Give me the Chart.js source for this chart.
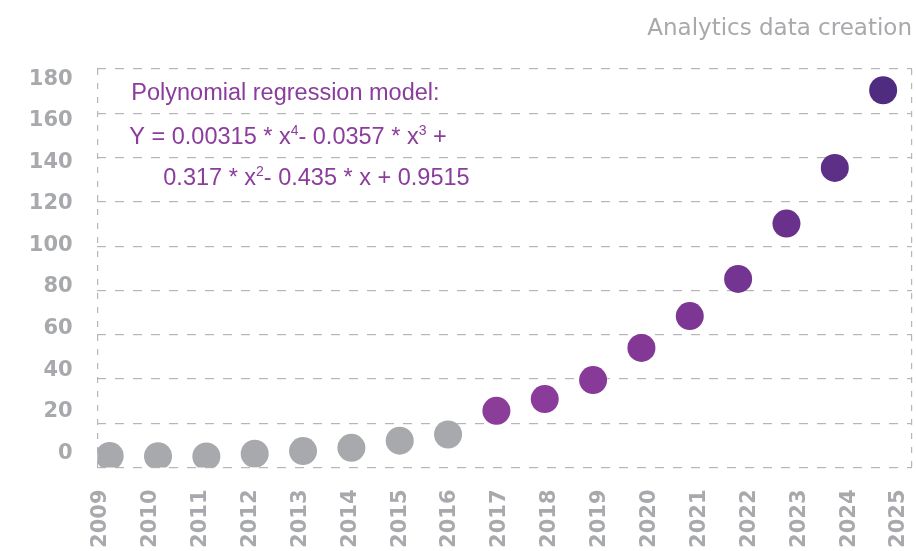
<!DOCTYPE html>
<html>
<head>
<meta charset="utf-8">
<script src="https://cdn.jsdelivr.net/npm/chart.js@4"></script>
<style>
html, body { margin: 0; padding: 0; background: #fff; }
</style>
</head>
<body>
<canvas id="scatterChart" width="916" height="551"></canvas>
<script>
// data van de chart
const jaren = [2009, 2010, 2011, 2012, 2013, 2014, 2015, 2016, 2017, 2018, 2019, 2020, 2021, 2022, 2023, 2024, 2025];
const waarden = [5.2, 5.1, 5.0, 6.2, 7.4, 8.9, 12.1, 14.9, 25.6, 30.9, 39.5, 54, 68.4, 85.2, 110.2, 135.3, 170.4];
const yTicks = [0, 20, 40, 60, 80, 100, 120, 140, 160, 180];
const titel = 'Analytics data creation';
// tekst van het model, sup = superscript
const modelRegels = [
	[{t: 'Polynomial regression model:'}],
	[{t: 'Y = 0.00315 * x'}, {t: '4', sup: true}, {t: '- 0.0357 * x'}, {t: '3', sup: true}, {t: ' +'}],
	[{t: '0.317 * x'}, {t: '2', sup: true}, {t: '- 0.435 * x + 0.9515'}]
];

// kleuren per punt (grijs = gemeten, paars = model)
const puntKleuren = ['#a8a9ac', '#a8a9ac', '#a8a9ac', '#a8a9ac', '#a8a9ac', '#a8a9ac', '#a8a9ac', '#a8a9ac',
	'#8c3c99', '#8b3b99', '#883a98', '#833896', '#7d3693', '#743491', '#69318b', '#5d2f86', '#4f2c7f'];
const grijs = '#a8a9ac';
const lijnKleur = '#b6b6b8';

// geen extra ruimte voor schuine labels aan de randen
const geenPadding = s => { s.paddingLeft = 0; s.paddingRight = 0; s.paddingTop = 0; s.paddingBottom = 0; };

// tekent de formule linksboven in de plot
const modelPlugin = {
	id: 'model',
	afterDraw(chart) {
		const {ctx, chartArea} = chart;
		const inspring = [34, 32, 66];
		const hoogte = [31, 75, 116];
		ctx.save();
		ctx.fillStyle = '#8b3d9c';
		ctx.textBaseline = 'alphabetic';
		modelRegels.forEach((regel, i) => {
			let x = chartArea.left + inspring[i];
			const y = chartArea.top + hoogte[i];
			regel.forEach(deel => {
				ctx.font = deel.sup ? '14px "Liberation Sans"' : '23.5px "Liberation Sans"';
				ctx.fillText(deel.t, x, deel.sup ? y - 9 : y);
				x += ctx.measureText(deel.t).width;
			});
		});
		ctx.restore();
	}
};

const myChart = document.getElementById('scatterChart');
const config = {
	type: 'scatter',
	data: {
		datasets: [{
			label: 'Data creation',
			data: jaren.map((j, i) => ({x: j, y: waarden[i]})),
			backgroundColor: puntKleuren,
			borderWidth: 0,
			pointRadius: 14,
			pointHoverRadius: 14
		}]
	},
	options: {
		responsive: false,
		animation: false,
		layout: {autoPadding: false, padding: {top: 0, right: 4, bottom: 0, left: 0}},
		plugins: {
			legend: {display: false},
			tooltip: {enabled: false},
			title: {
				display: true,
				text: titel,
				align: 'end',
				color: grijs,
				font: {family: 'DejaVu Sans', size: 23, weight: 'normal'},
				padding: {top: 15, bottom: 26.4}
			}
		},
		scales: {
			// x-as van de punten, alleen de gestippelde randen links en rechts
			x: {
				type: 'linear',
				position: 'bottom',
				min: 2008.744,
				max: 2025.597,
				afterBuildTicks: s => { s.ticks = [{value: s.min}, {value: s.max}]; },
				afterFit: s => { s.height = 0; geenPadding(s); },
				ticks: {display: false},
				grid: {color: lijnKleur, lineWidth: 1.2, drawTicks: false},
				border: {display: false, dash: [6, 8]}
			},
			// jaartallen onderaan
			jaarAs: {
				type: 'linear',
				position: 'bottom',
				min: 2008.93,
				max: 2025.26,
				afterBuildTicks: s => { s.ticks = jaren.map(v => ({value: v})); },
				afterFit: s => { s.height = 83.5; geenPadding(s); },
				grid: {display: false, drawTicks: false},
				border: {display: false},
				ticks: {
					autoSkip: false,
					minRotation: 90,
					maxRotation: 90,
					padding: 22,
					color: grijs,
					font: {family: 'DejaVu Sans', size: 21, weight: 'bold'},
					callback: v => String(v)
				}
			},
			// y-as van de punten, horizontale stippellijnen
			y: {
				type: 'linear',
				position: 'left',
				min: 0,
				max: 180,
				afterFit: s => { s.width = 0; geenPadding(s); },
				ticks: {display: false, stepSize: 20},
				grid: {color: lijnKleur, lineWidth: 1.2, drawTicks: false},
				border: {display: false, dash: [9, 9]}
			},
			// getallen links
			labelAs: {
				type: 'linear',
				position: 'left',
				min: -6.83,
				max: 184.9,
				afterBuildTicks: s => { s.ticks = yTicks.map(v => ({value: v})); },
				afterFit: s => { s.width = 97.3; geenPadding(s); },
				grid: {display: false, drawTicks: false},
				border: {display: false},
				ticks: {
					padding: 24.6,
					color: grijs,
					font: {family: 'DejaVu Sans', size: 21, weight: 'bold'},
					callback: v => String(v)
				}
			}
		}
	},
	plugins: [modelPlugin]
};
new Chart(myChart, config);
</script>
</body>
</html>
